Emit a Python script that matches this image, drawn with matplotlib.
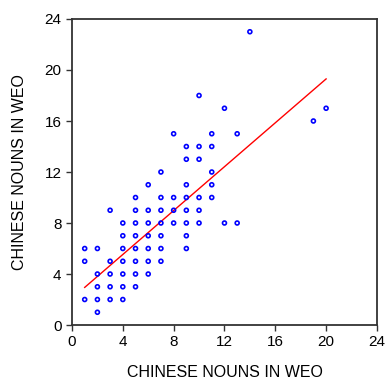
import matplotlib
matplotlib.use("Agg")
import matplotlib.pyplot as plt

# Scatter data
x_vals = [1, 1, 1, 2, 2, 2, 2, 2,
          3, 3, 3, 3, 3,
          4, 4, 4, 4, 4, 4, 4,
          5, 5, 5, 5, 5, 5, 5, 5,
          6, 6, 6, 6, 6, 6, 6,
          7, 7, 7, 7, 7, 7, 7,
          8, 8, 8, 8,
          9, 9, 9, 9, 9, 9, 9, 9,
          10, 10, 10, 10, 10, 10,
          11, 11, 11, 11, 11,
          12, 12, 13, 13, 14, 19, 20]
y_vals = [6, 5, 2, 6, 4, 3, 2, 1,
          9, 5, 4, 3, 2,
          8, 7, 6, 5, 4, 3, 2,
          10, 9, 8, 7, 6, 5, 4, 3,
          11, 9, 8, 7, 6, 5, 4,
          12, 10, 9, 8, 7, 6, 5,
          15, 10, 9, 8,
          14, 13, 11, 10, 9, 8, 7, 6,
          18, 14, 13, 10, 9, 8,
          15, 14, 12, 11, 10,
          17, 8, 15, 8, 23, 16, 17]

# Regression line end points
fit_x = [1, 20]
fit_y = [2.95, 19.3]

ticks = [0, 4, 8, 12, 16, 20, 24]

plt.rcParams["font.family"] = ["Liberation Sans", "DejaVu Sans"]

fig = plt.figure(figsize=(3.86, 3.83), dpi=100)
ax = fig.add_axes([0.1865, 0.1514, 0.79, 0.799])

ax.scatter(x_vals, y_vals, s=8, facecolors="none", edgecolors="#0000ff",
           linewidths=1.2, zorder=3)
ax.plot(fit_x, fit_y, color="#ff0000", linewidth=1.0, zorder=2)

ax.set_xlim(0, 24)
ax.set_ylim(0, 24)
ax.set_xticks(ticks)
ax.set_yticks(ticks)
ax.tick_params(direction="out", length=4, width=1, labelsize=11, colors="#333333")
ax.tick_params(labelcolor="black")
for sp in ax.spines.values():
    sp.set_linewidth(1.3)
    sp.set_color("#333333")

ax.set_xlabel("CHINESE NOUNS IN WEO", fontsize=11.5, labelpad=11)
ax.set_ylabel("CHINESE NOUNS IN WEO", fontsize=11.5, labelpad=13)

fig.savefig("out.png", dpi=100)
plt.close(fig)
